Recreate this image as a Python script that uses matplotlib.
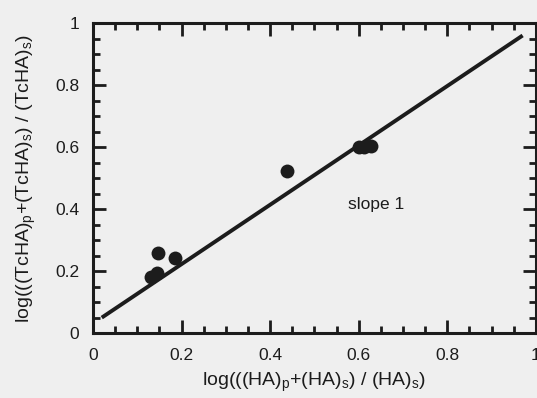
import numpy as np
import matplotlib.pyplot as plt
from matplotlib.ticker import MultipleLocator, FuncFormatter

# data
haX = [0.132, 0.144, 0.147, 0.185, 0.439, 0.601, 0.612, 0.627]
tchaY = [0.182, 0.195, 0.259, 0.241, 0.524, 0.599, 0.600, 0.603]

# the drawn "slope 1" line, its two ends
lineX = [0.02, 0.97]
lineY = [0.05, 0.96]

plt.rcParams['font.family'] = ['Liberation Sans', 'DejaVu Sans']
plt.rcParams['mathtext.fontset'] = 'custom'
plt.rcParams['mathtext.rm'] = 'Liberation Sans'

ink = '#1c1c1c'
paper = '#efefef'

fig = plt.figure(figsize=(5.37, 3.98), dpi=100, facecolor=paper)
ax = fig.add_axes([0.173, 0.163, 0.825, 0.779])
ax.set_facecolor(paper)

ax.plot(lineX, lineY, color=ink, lw=2.8, solid_capstyle='butt')
ax.scatter(haX, tchaY, s=100, color=ink, zorder=3, linewidths=0)

ax.text(0.576, 0.416, 'slope 1', fontsize=12.5, color=ink, va='center', ha='left')

ax.set_xlim(0, 1)
ax.set_ylim(0, 1)

# ticks on all four sides, pointing in
for a in (ax.xaxis, ax.yaxis):
    a.set_major_locator(MultipleLocator(0.2))
    a.set_minor_locator(MultipleLocator(0.05))
    a.set_major_formatter(FuncFormatter(lambda v, p: '%g' % round(v, 2)))
ax.tick_params(which='both', direction='in', top=True, right=True, color=ink,
               width=2, labelsize=12.5, labelcolor=ink)
ax.tick_params(which='major', length=9.5)
ax.tick_params(which='minor', length=5)
ax.tick_params(axis='x', which='major', pad=11)
ax.tick_params(axis='y', which='major', pad=10)

for sp in ax.spines.values():
    sp.set_linewidth(2.2)
    sp.set_color(ink)

ax.set_xlabel(r'log(((HA)$_\mathrm{p}$+(HA)$_\mathrm{s}$) / (HA)$_\mathrm{s}$)',
              fontsize=14, color=ink, labelpad=5)
ax.set_ylabel(r'log(((TcHA)$_\mathrm{p}$+(TcHA)$_\mathrm{s}$) / (TcHA)$_\mathrm{s}$)',
              fontsize=14, color=ink, labelpad=12)

plt.savefig('out.png', dpi=100, facecolor=paper)
